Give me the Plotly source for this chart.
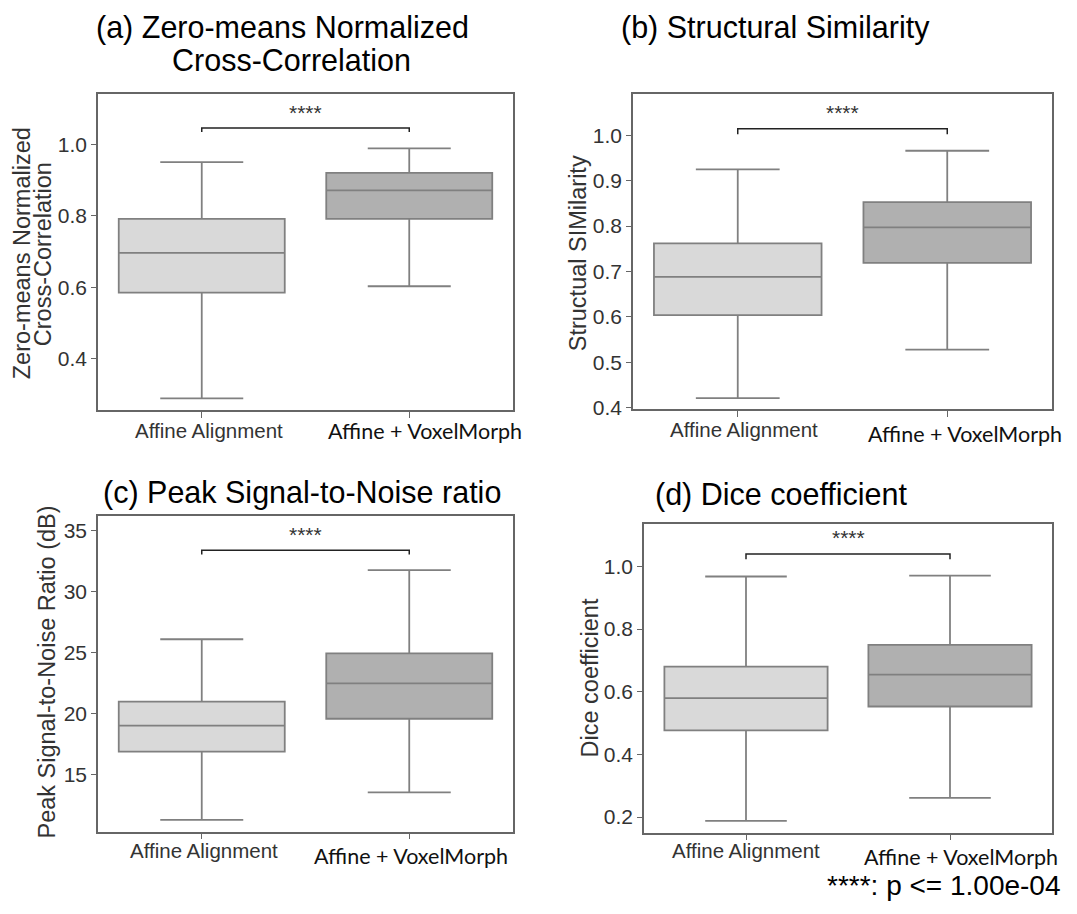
import plotly.graph_objects as go

# page is 1077x914; the browser body keeps an 8px margin, so the figure is 16px smaller
PAGE_W, PAGE_H = 1077, 914
BODY = 8
W, H = PAGE_W - 2 * BODY, PAGE_H - 2 * BODY

# ---------------- data ----------------
categories = ["Affine Alignment", "Affine + VoxelMorph"]

zncc_low = [0.290, 0.603]
zncc_q1 = [0.585, 0.791]
zncc_median = [0.696, 0.871]
zncc_q3 = [0.791, 0.920]
zncc_high = [0.950, 0.988]

ssim_low = [0.421, 0.528]
ssim_q1 = [0.604, 0.719]
ssim_median = [0.688, 0.797]
ssim_q3 = [0.762, 0.853]
ssim_high = [0.925, 0.966]

psnr_low = [11.27, 13.52]
psnr_q1 = [16.86, 19.56]
psnr_median = [19.00, 22.46]
psnr_q3 = [20.97, 24.92]
psnr_high = [26.08, 31.75]

dice_low = [0.188, 0.261]
dice_q1 = [0.477, 0.553]
dice_median = [0.580, 0.655]
dice_q3 = [0.680, 0.750]
dice_high = [0.968, 0.971]

significance = "****"
bracket_levels = [1.045, 1.0146, 33.38, 1.040]
footnote = "****: p <= 1.00e-04"

panel_titles = [["(a) Zero-means Normalized", "Cross-Correlation"],
                ["(b) Structural Similarity"],
                ["(c) Peak Signal-to-Noise ratio"],
                ["(d) Dice coefficient"]]
y_titles = [["Zero-means Normalized", "Cross-Correlation"],
            ["Structual SIMilarity"],
            ["Peak Signal-to-Noise Ratio (dB)"],
            ["Dice coefficient"]]

# ---------------- styling / layout ----------------
ARIAL = "Liberation Sans, Arial, sans-serif"
CALIBRI = "Lato, Carlito, sans-serif"
box_fill = ["#d9d9d9", "#b0b0b0"]
box_line = "#808080"
frame = "#666666"
tick_col = "#333333"


def px(x):
    return (x - BODY) / W


def py(y):
    return 1 - (y - BODY) / H


panels = [
    dict(stats=(zncc_low, zncc_q1, zncc_median, zncc_q3, zncc_high),
         xdom=(98, 513), ydom=(95, 415), yrange=(0.256, 1.14), dtick=0.2, tick0=0, fmt=".1f",
         drop=0.011),
    dict(stats=(ssim_low, ssim_q1, ssim_median, ssim_q3, ssim_high),
         xdom=(633, 1052), ydom=(95, 414), yrange=(0.396, 1.091), dtick=0.1, tick0=0, fmt=".1f",
         drop=0.012),
    dict(stats=(psnr_low, psnr_q1, psnr_median, psnr_q3, psnr_high),
         xdom=(98, 513), ydom=(522, 841), yrange=(10.30, 36.16), dtick=5, tick0=0, fmt="d",
         drop=0.35),
    dict(stats=(dice_low, dice_q1, dice_median, dice_q3, dice_high),
         xdom=(644, 1052), ydom=(530, 842), yrange=(0.150, 1.135), dtick=0.2, tick0=0, fmt=".1f",
         drop=0.017),
]

fig = go.Figure()
layout = dict(width=W, height=H, margin=dict(l=0, r=0, t=0, b=0),
              paper_bgcolor="white", plot_bgcolor="white", showlegend=False,
              boxmode="overlay")
shapes = []
annotations = []

for i, p in enumerate(panels):
    n = "" if i == 0 else str(i + 1)
    xa, ya = "x" + n, "y" + n
    low, q1, med, q3, high = p["stats"]
    for j, cat in enumerate(categories):
        fig.add_trace(go.Box(
            x=[cat], lowerfence=[low[j]], q1=[q1[j]], median=[med[j]], q3=[q3[j]],
            upperfence=[high[j]], xaxis=xa, yaxis=ya, width=0.8, whiskerwidth=0.5,
            fillcolor=box_fill[j], line=dict(color=box_line, width=1.8),
            boxpoints=False, hoverinfo="skip"))
    layout["xaxis" + n] = dict(
        domain=[px(p["xdom"][0]), px(p["xdom"][1])], anchor=ya,
        type="category", categoryorder="array", categoryarray=categories,
        range=[-0.5, 1.5], showline=True, mirror=True, linecolor=frame, linewidth=1.5,
        ticks="outside", ticklen=6, tickcolor=frame, tickwidth=1.2,
        showticklabels=False, showgrid=False, zeroline=False, fixedrange=True)
    layout["yaxis" + n] = dict(
        domain=[py(p["ydom"][1]), py(p["ydom"][0])], anchor=xa,
        range=list(p["yrange"]), tick0=p["tick0"], dtick=p["dtick"], tickformat=p["fmt"],
        showline=True, mirror=True, linecolor=frame, linewidth=1.5,
        ticks="outside", ticklen=5, tickcolor=frame, tickwidth=1.2,
        tickfont=dict(family=ARIAL, size=21, color=tick_col),
        showgrid=False, zeroline=False, fixedrange=True)

    # significance bracket
    lvl = bracket_levels[i]
    d = p["drop"]
    shapes.append(dict(type="path", xref=xa, yref=ya,
                       path=f"M 0 {lvl - d} L 0 {lvl} L 1 {lvl} L 1 {lvl - d}",
                       line=dict(color="#222222", width=1.5)))
    annotations.append(dict(x=0.5, y=lvl, xref=xa, yref=ya, text=significance,
                            showarrow=False, xanchor="center", yanchor="middle", yshift=16,
                            font=dict(family=ARIAL, size=21, color="#333333")))

# x category labels (two different fonts as in the original)
xlabel_pos = [  # (xshift, y pixel) per panel for each category
    [(7, 435), (16, 436)],
    [(6, 434), (18, 439)],
    [(2, 860), (2, 866)],
    [(0, 860), (11, 867)],
]
for i in range(4):
    n = "" if i == 0 else str(i + 1)
    for j, cat in enumerate(categories):
        xs, yp = xlabel_pos[i][j]
        if j == 0:
            f = dict(family=ARIAL, size=20.5, color=tick_col)
        else:
            f = dict(family=CALIBRI, size=21.5, color="#111111")
        annotations.append(dict(x=cat, y=py(yp), xref="x" + n, yref="paper", text=cat,
                                showarrow=False, xanchor="center", yanchor="middle",
                                xshift=xs, font=f))

# panel titles (top titles anchored at their top edge so they stay inside the page)
title_pos = [[(282, 5), (291, 61)], [(775, 5)], [(302, 498)], [(781, 500)]]
for k, (lines, poss) in enumerate(zip(panel_titles, title_pos)):
    for li, (t, (xp, yp)) in enumerate(zip(lines, poss)):
        top = (k < 2 and li == 0)
        annotations.append(dict(x=px(xp), y=py(yp) if not top else 1.0, xref="paper",
                                yref="paper", text=t, showarrow=False, xanchor="center",
                                yanchor="top" if top else "middle",
                                font=dict(family=ARIAL, size=30.5, color="#000000")))

# y-axis titles
ytitle_pos = [[(22, 256), (43, 257)], [(578, 256)], [(47, 680)], [(590, 686)]]
for lines, poss in zip(y_titles, ytitle_pos):
    for t, (xp, yp) in zip(lines, poss):
        annotations.append(dict(x=px(xp), y=py(yp), xref="paper", yref="paper", text=t,
                                showarrow=False, xanchor="center", yanchor="middle",
                                textangle=-90,
                                font=dict(family=ARIAL, size=23.5, color=tick_col)))

# footnote
annotations.append(dict(x=px(944), y=py(895), xref="paper", yref="paper", text=footnote,
                        showarrow=False, xanchor="center", yanchor="middle",
                        font=dict(family=ARIAL, size=28, color="#000000")))

layout["shapes"] = shapes
layout["annotations"] = annotations
fig.update_layout(**layout)
fig.write_html("out.html")
